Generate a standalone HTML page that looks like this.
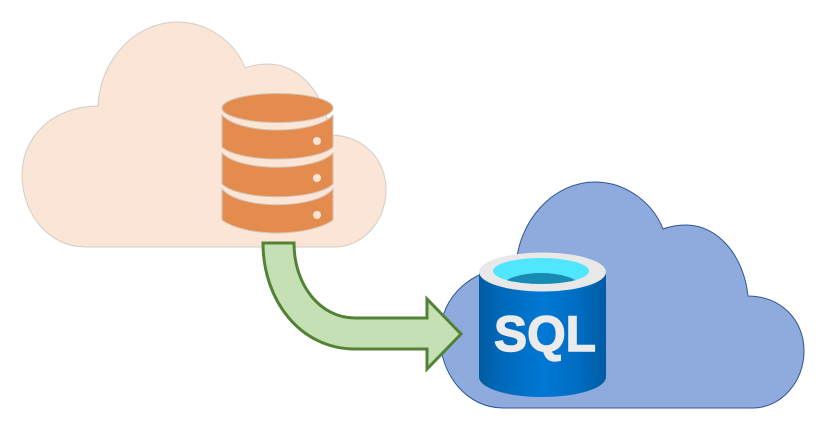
<!DOCTYPE html>
<html>
<head>
<meta charset="utf-8">
<style>
html,body{margin:0;padding:0;background:#fff;width:825px;height:430px;overflow:hidden}
svg{display:block}
</style>
</head>
<body>
<svg width="825" height="430" viewBox="0 0 825 430" xmlns="http://www.w3.org/2000/svg">
<defs>
<linearGradient id="b" x1="0" x2="1" y1="0" y2="0">
<stop offset="0" stop-color="#005BA1"/>
<stop offset=".16" stop-color="#0068B8"/>
<stop offset=".5" stop-color="#0078D4"/>
<stop offset=".8" stop-color="#006CC0"/>
<stop offset="1" stop-color="#005BA1"/>
</linearGradient>
<clipPath id="w"><ellipse cx="541" cy="271" rx="48" ry="13"/></clipPath>
</defs>

<!-- left cloud -->
<path d="M85,247 C50,247 22,215 22,175 C22,135 55,106 98,106 C100,60 135,22 177,22 C208,22 235,42 245,68 C253,65 260,64 268,64 C300,64 326,95 330,135 C362,135 386,158 386,190 C386,222 362,247 335,247 Z" fill="#FBE5D6" stroke="#D2CDC8" stroke-width="1"/>

<!-- right cloud -->
<path transform="translate(418,161)" d="M85,247 C50,247 22,215 22,175 C22,135 55,106 98,106 C100,60 135,21 177,21 C208,21 235,42 245,68 C253,65 260,64 268,64 C300,64 326,95 330,135 C362,135 386,158 386,190 C386,222 362,247 335,247 Z" fill="#8FAADC" stroke="#2F5597" stroke-width="1"/>

<!-- orange database -->
<g fill="#E48B4E" stroke="#D3C4B6" stroke-width="1">
<path d="M222,115 C240,135 315,135 333,115 L333,147 C315,163 240,163 222,147 Z"/>
<path d="M222,153 C240,172 315,172 333,153 L333,184 C315,201 240,201 222,184 Z"/>
<path d="M222,189 C240,210 315,210 333,189 L333,220 C322,228 300,233 277,233 C254,233 233,228 222,220 Z"/>
<ellipse cx="277.500" cy="108" rx="55.500" ry="14.500"/>
</g>
<g fill="#FBE5D6">
<circle cx="317" cy="141" r="4"/>
<circle cx="317" cy="178" r="4"/>
<circle cx="317" cy="215" r="4"/>
</g>

<!-- arrow -->
<path d="M263,243 L294,243 C294,285 320,318 355,318 L427,318 L427,299 L461,334 L427,369 L427,349 L355,349 C300,349 263,300 263,243 Z" fill="#C5E0B4" stroke="#548235" stroke-width="3" stroke-linejoin="miter"/>

<!-- SQL cylinder -->
<path d="M479,272 L479,377 C479,388 507,397 542.500,397 C578,397 606,388 606,377 L606,272 Z" fill="url(#b)"/>
<ellipse cx="542.500" cy="272" rx="63.500" ry="19.500" fill="#E8E8E8"/>
<ellipse cx="541" cy="271" rx="48" ry="13" fill="#50E6FF"/>
<ellipse cx="541" cy="289" rx="41" ry="16" fill="#198AB3" clip-path="url(#w)"/>
<text x="494" y="351" font-family="'Liberation Sans',sans-serif" font-weight="700" font-size="50" fill="#EBEBEB" stroke="#EBEBEB" stroke-width="1.400" textLength="102" lengthAdjust="spacingAndGlyphs">SQL</text>
</svg>
</body>
</html>
